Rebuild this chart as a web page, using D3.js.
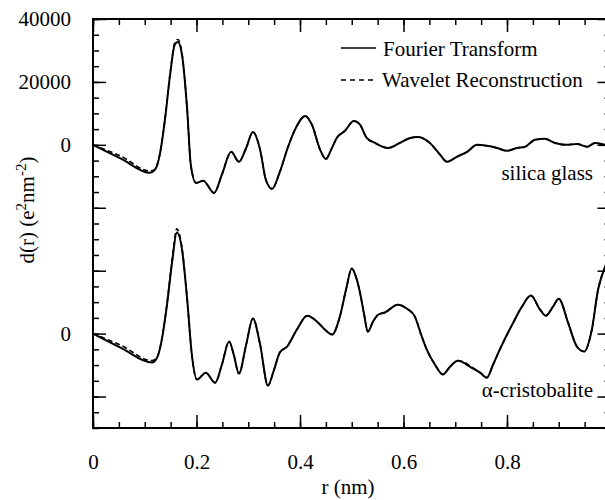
<!DOCTYPE html>
<html>
<head>
<meta charset="utf-8">
<script src="https://cdn.jsdelivr.net/npm/d3@7"></script>
<style>
  body { margin: 0; background: #fff; }
  text { font-family: "Liberation Serif", "Times New Roman", serif; fill: #000; }
</style>
</head>
<body>
<div id="chart"></div>
<script>
// silica glass, d(r) (e^2 nm^-2)
var rGlass = [0, 0.055, 0.110, 0.120, 0.129, 0.139, 0.149, 0.158, 0.164, 0.172, 0.182, 0.189, 0.199, 0.213, 0.234,
  0.249, 0.267, 0.282, 0.296, 0.309, 0.323, 0.334, 0.346, 0.361, 0.377, 0.392, 0.410, 0.423, 0.439, 0.450,
  0.460, 0.471, 0.487, 0.504, 0.516, 0.529, 0.545, 0.570, 0.593, 0.613, 0.628, 0.651, 0.671, 0.684, 0.703,
  0.723, 0.742, 0.761, 0.781, 0.800, 0.819, 0.835, 0.854, 0.873, 0.893, 0.916, 0.935, 0.955, 0.970, 0.989, 1.0];
var ftGlass = [0, -4450, -8900, -7900, -3200, 7900, 22300, 31800, 32700, 28600, 11100, -6400, -12100, -11400, -15300,
  -9500, -2200, -5400, -1000, 4100, -1600, -11100, -14000, -8600, -600, 5400, 9200, 6400, -1600, -4500,
  -1600, 2200, 4500, 7600, 6400, 2200, 600, -1000, 600, 2200, 2500, 600, -3200, -5400, -3800,
  -2200, 0, -300, -1000, -1900, -1000, -600, 1600, 1900, 600, 0, 300, -600, 600, 0, -300];
var wlGlass = [0, -3700, -8300, -7700, -3000, 8100, 22700, 32400, 33500, 29000, 11100, -6400, -12100, -11400, -15300,
  -9500, -2200, -5400, -1000, 4100, -1600, -11100, -14000, -8600, -600, 5400, 9200, 6400, -1600, -4500,
  -1600, 2200, 4500, 7600, 6400, 2200, 600, -1000, 600, 2200, 2500, 600, -3200, -5400, -3800,
  -2200, 0, -300, -1000, -1900, -1000, -600, 1600, 1900, 600, 0, 300, -600, 600, 0, -300];

// alpha-cristobalite, plotted 60000 lower
var rCrist = [0, 0.055, 0.114, 0.124, 0.133, 0.143, 0.153, 0.162, 0.172, 0.182, 0.191, 0.201, 0.218, 0.236, 0.249,
  0.263, 0.272, 0.282, 0.296, 0.309, 0.323, 0.338, 0.350, 0.361, 0.375, 0.394, 0.414, 0.433, 0.448, 0.462,
  0.477, 0.489, 0.500, 0.508, 0.516, 0.524, 0.531, 0.541, 0.551, 0.564, 0.589, 0.607, 0.622, 0.634, 0.645,
  0.661, 0.676, 0.690, 0.705, 0.719, 0.728, 0.748, 0.761, 0.773, 0.786, 0.812, 0.829, 0.846, 0.864, 0.875,
  0.889, 0.900, 0.918, 0.935, 0.949, 0.964, 0.976, 0.989, 1.0];
var ftCrist = [0, -4600, -9200, -7600, -1900, 9200, 22900, 32100, 26700, 10800, -6700, -14600, -12400, -15600, -9900,
  -2500, -6700, -12700, -3500, 4800, -3500, -16500, -11400, -6000, -4100, 1300, 5700, 3800, 1300, -300,
  5400, 14000, 20700, 18100, 13000, 6000, 600, 3800, 6000, 6700, 9200, 7900, 5400, -300, -5100,
  -9900, -13000, -10500, -8600, -9500, -10500, -12400, -14000, -9900, -5100, 3500, 8600, 12100, 7600, 5700,
  8600, 11100, 3500, -4100, -5700, 1300, 14000, 21000, 25000];
var wlCrist = [0, -3800, -8600, -7400, -1700, 9500, 23500, 33300, 27200, 10800, -6700, -14600, -12400, -15600, -9900,
  -2500, -6700, -12700, -3500, 4800, -3500, -16500, -11400, -6000, -4100, 1300, 5700, 3800, 1300, -300,
  5400, 14000, 20700, 18100, 13000, 6000, 600, 3800, 6000, 6700, 9200, 7900, 5400, -300, -5100,
  -9900, -13000, -10500, -8600, -9200, -10200, -12400, -14000, -9900, -5100, 3500, 8600, 12100, 7600, 5700,
  8600, 11100, 3500, -4100, -5700, 1300, 14000, 21000, 25000];

var glassOffset = 0,
    cristOffset = -60000;

var xTickValues = [0, 0.2, 0.4, 0.6, 0.8, 1.0];
var xTickLabels = ["0", "0.2", "0.4", "0.6", "0.8", "1"];
var yTickValues = [40000, 20000, 0, -60000];
var yTickLabels = ["40000", "20000", "0", "0"];
var legendLabels = ["Fourier Transform", "Wavelet Reconstruction"];

var width = 605, height = 500;
var margin = {top: 19, right: -5.5, bottom: 72, left: 93},
    chartWidth = width - margin.left - margin.right,
    chartHeight = height - margin.top - margin.bottom;

var svg = d3.select("#chart").append("svg")
  .attr("width", width)
  .attr("height", height);

var chart = svg.append("g")
  .attr("transform", "translate(" + margin.left + "," + margin.top + ")");

var x = d3.scaleLinear().domain([0, 1]).range([0, chartWidth]);
var y = d3.scaleLinear().domain([-90000, 40000]).range([chartHeight, 0]);

var xMinor = d3.range(0, 21).map(function(i) { return i * 0.05; });
var yMinor = d3.range(-18, 9).map(function(i) { return i * 5000; });
var yMajor = d3.range(-4, 3).map(function(i) { return i * 20000; });

function cleanAxis(g) {
  g.select(".domain").remove();
  g.selectAll(".tick line").attr("stroke", "#000").attr("stroke-width", 1.5);
  g.selectAll("text")
    .attr("font-family", "'Liberation Serif', 'Times New Roman', serif")
    .attr("font-size", 21)
    .attr("fill", "#000");
}

// bottom and top
chart.append("g").attr("transform", "translate(0," + chartHeight + ")")
  .call(d3.axisBottom(x).tickValues(xMinor).tickSize(-6).tickSizeOuter(0).tickFormat(""))
  .call(cleanAxis);
chart.append("g").attr("transform", "translate(0," + chartHeight + ")")
  .call(d3.axisBottom(x).tickValues(xTickValues).tickSize(-13).tickSizeOuter(0).tickPadding(26)
    .tickFormat(function(d, i) { return xTickLabels[i]; }))
  .call(cleanAxis);
chart.append("g")
  .call(d3.axisTop(x).tickValues(xMinor).tickSize(-6).tickSizeOuter(0).tickFormat(""))
  .call(cleanAxis);
chart.append("g")
  .call(d3.axisTop(x).tickValues(xTickValues).tickSize(-13).tickSizeOuter(0).tickFormat(""))
  .call(cleanAxis);

// left and right
chart.append("g")
  .call(d3.axisLeft(y).tickValues(yMinor).tickSize(-6).tickSizeOuter(0).tickFormat(""))
  .call(cleanAxis);
chart.append("g")
  .call(d3.axisLeft(y).tickValues(yMajor).tickSize(-13).tickSizeOuter(0).tickFormat(""))
  .call(cleanAxis);
chart.append("g")
  .call(d3.axisLeft(y).tickValues(yTickValues).tickSize(0).tickSizeOuter(0).tickPadding(22)
    .tickFormat(function(d, i) { return yTickLabels[i]; }))
  .call(cleanAxis);
chart.append("g").attr("transform", "translate(" + chartWidth + ",0)")
  .call(d3.axisRight(y).tickValues(yMinor).tickSize(-6).tickSizeOuter(0).tickFormat(""))
  .call(cleanAxis);
chart.append("g").attr("transform", "translate(" + chartWidth + ",0)")
  .call(d3.axisRight(y).tickValues(yMajor).tickSize(-13).tickSizeOuter(0).tickFormat(""))
  .call(cleanAxis);

chart.append("rect")
  .attr("width", chartWidth)
  .attr("height", chartHeight)
  .attr("fill", "none")
  .attr("stroke", "#000")
  .attr("stroke-width", 2);

chart.append("clipPath").attr("id", "plotArea")
  .append("rect").attr("width", chartWidth).attr("height", chartHeight);

function curve(rs, vs, offset) {
  return d3.line()
    .x(function(d) { return x(d); })
    .y(function(d, i) { return y(vs[i] + offset); })
    .curve(d3.curveMonotoneX)(rs);
}

var plot = chart.append("g").attr("clip-path", "url(#plotArea)");

plot.append("path").attr("d", curve(rGlass, wlGlass, glassOffset))
  .attr("fill", "none").attr("stroke", "#000").attr("stroke-width", 1.6).attr("stroke-dasharray", "5,3");
plot.append("path").attr("d", curve(rCrist, wlCrist, cristOffset))
  .attr("fill", "none").attr("stroke", "#000").attr("stroke-width", 1.6).attr("stroke-dasharray", "5,3");
plot.append("path").attr("d", curve(rGlass, ftGlass, glassOffset))
  .attr("fill", "none").attr("stroke", "#000").attr("stroke-width", 2);
plot.append("path").attr("d", curve(rCrist, ftCrist, cristOffset))
  .attr("fill", "none").attr("stroke", "#000").attr("stroke-width", 2);

// legend
var legend = svg.append("g");
legend.append("line").attr("x1", 341).attr("x2", 376).attr("y1", 48).attr("y2", 48)
  .attr("stroke", "#000").attr("stroke-width", 1.5);
legend.append("text").attr("x", 383).attr("y", 56).attr("font-size", 21).text(legendLabels[0]);
legend.append("line").attr("x1", 341).attr("x2", 376).attr("y1", 80).attr("y2", 80)
  .attr("stroke", "#000").attr("stroke-width", 1.5).attr("stroke-dasharray", "5,4");
legend.append("text").attr("x", 382).attr("y", 87).attr("font-size", 21).text(legendLabels[1]);

svg.append("text").attr("x", 593).attr("y", 180).attr("text-anchor", "end")
  .attr("font-size", 21).text("silica glass");
svg.append("text").attr("x", 593).attr("y", 397).attr("text-anchor", "end")
  .attr("font-size", 21).text("α-cristobalite");

svg.append("text").attr("x", 348).attr("y", 494).attr("text-anchor", "middle")
  .attr("font-size", 21).text("r (nm)");

var yTitle = svg.append("text")
  .attr("transform", "translate(34,210) rotate(-90)")
  .attr("text-anchor", "middle")
  .attr("font-size", 21);
yTitle.append("tspan").text("d(r) (e");
yTitle.append("tspan").attr("dy", -8).attr("font-size", 15).text("2");
yTitle.append("tspan").attr("dy", 8).text("nm");
yTitle.append("tspan").attr("dy", -8).attr("font-size", 15).text("-2");
yTitle.append("tspan").attr("dy", 8).text(")");
</script>
</body>
</html>
